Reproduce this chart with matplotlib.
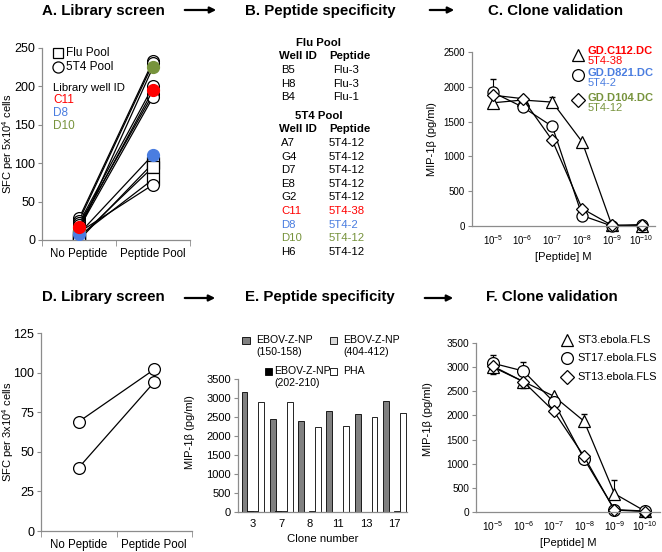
import matplotlib
matplotlib.use("Agg")
import matplotlib.pyplot as plt
import numpy as np
from matplotlib.lines import Line2D
from matplotlib.patches import FancyArrowPatch, Rectangle

plt.rcParams['font.family'] = ['Liberation Sans', 'DejaVu Sans']
plt.rcParams['mathtext.fontset'] = 'custom'
plt.rcParams['mathtext.rm'] = 'Liberation Sans'
plt.rcParams['mathtext.default'] = 'regular'

# ---- data ----
# A. library screen (SFC per 5x10^4 cells)
flu_wells = ['B5', 'H8', 'B4']
flu_no_pep = [0, 3, 5]
flu_pool = [100, 95, 79]
t4_wells = ['A7', 'G4', 'D7', 'E8', 'G2', 'C11', 'D8', 'D10', 'H6']
t4_no_pep = [28, 25, 22, 20, 15, 17, 8, 12, 10]
t4_pool = [233, 230, 200, 190, 186, 195, 111, 225, 72]
highlight = {'C11': '#ff0000', 'D8': '#4a7de0', 'D10': '#77933c'}

# B. peptide specificity table
flu_peps = ['Flu-3', 'Flu-3', 'Flu-1']
t4_peps = ['5T4-12', '5T4-12', '5T4-12', '5T4-12', '5T4-12', '5T4-38', '5T4-2', '5T4-12', '5T4-12']

# C. clone validation, MIP-1b (pg/ml)
conc_labels = ['10$^{-5}$', '10$^{-6}$', '10$^{-7}$', '10$^{-8}$', '10$^{-9}$', '10$^{-10}$']
c112 = [1770, 1810, 1780, 1210, 10, 0]
c112_err = [0, 0, 70, 0, 0, 0]
d821 = [1920, 1710, 1430, 150, 0, 10]
d821_err = [190, 0, 0, 0, 0, 0]
d104 = [1880, 1830, 1230, 250, 10, 20]
d104_err = [0, 0, 0, 0, 0, 0]

# D. library screen (SFC per 3x10^4 cells)
d_no_pep = [69, 40]
d_pool = [102, 94]

# E. peptide specificity
clones = ['3', '7', '8', '11', '13', '17']
np_150 = [3150, 2440, 2400, 2650, 2590, 2920]
np_202 = [15, 15, 10, 0, 0, 10]
np_404 = [15, 20, 15, 0, 0, 15]
pha = [2900, 2900, 2240, 2260, 2500, 2600]

# F. clone validation
st3 = [3000, 2700, 2400, 1880, 380, 20]
st3_lo = [150, 0, 0, 0, 0, 0]
st3_hi = [0, 0, 0, 150, 280, 0]
st17 = [3080, 2920, 2280, 1100, 50, 20]
st17_lo = [0, 0, 0, 0, 0, 0]
st17_hi = [170, 180, 0, 0, 0, 0]
st13 = [3020, 2700, 2090, 1150, 40, 10]
st13_lo = [0, 140, 0, 0, 0, 0]
st13_hi = [0, 0, 0, 0, 0, 0]

W, H = 662, 552
fig = plt.figure(figsize=(W / 100, H / 100), dpi=100)
AX = '#8c8c8c'


def add_ax(x0, y0, x1, y1):
    return fig.add_axes([x0 / W, 1 - y1 / H, (x1 - x0) / W, (y1 - y0) / H])


def ftext(x, y, s, **kw):
    kw.setdefault('va', 'center')
    fig.text(x / W, 1 - y / H, s, **kw)


def fmark(x, y, marker, ms, fc='white'):
    fig.add_artist(Line2D([x / W], [1 - y / H], marker=marker, ms=ms, mfc=fc,
                          mec='k', mew=0.9, transform=fig.transFigure))


def arrow(x0, x1, y):
    fig.add_artist(FancyArrowPatch((x0 / W, 1 - y / H), (x1 / W, 1 - y / H),
                                   transform=fig.transFigure, arrowstyle='-|>',
                                   mutation_scale=9, lw=1.6, color='k'))


def style(ax, ysize=7.5, xsize=7.5):
    for s in ['top', 'right']:
        ax.spines[s].set_visible(False)
    for s in ['left', 'bottom']:
        ax.spines[s].set_color(AX)
        ax.spines[s].set_linewidth(0.9)
    ax.tick_params(axis='y', direction='out', length=3, color=AX, labelsize=ysize, pad=2)
    ax.tick_params(axis='x', length=0, labelsize=xsize)


def pair_axis(ax):
    ax.set_xlim(-0.5, 1.5)
    ax.set_xticks([0, 1])
    ax.set_xticklabels(['No Peptide', 'Peptide Pool'])
    ax.set_xticks([-0.5, 0.5, 1.5], minor=True)
    ax.tick_params(axis='x', which='minor', direction='out', length=4, color=AX)
    ax.tick_params(axis='x', which='major', pad=6)


# titles and arrows
for x, y, s in [(103, 11, 'A. Library screen'), (320, 11, 'B. Peptide specificity'),
                (555, 11, 'C. Clone validation'), (103, 297, 'D. Library screen'),
                (320, 297, 'E. Peptide specificity'), (552, 297, 'F. Clone validation')]:
    ftext(x, y, s, ha='center', fontsize=10.8, fontweight='bold')
arrow(182, 219, 10)
arrow(427, 457, 10)
arrow(182, 218, 298)
arrow(422, 456, 298)

# ---- A ----
ax = add_ax(42, 48, 190, 240)
style(ax, 9, 8.3)
pair_axis(ax)
ax.set_ylim(0, 250)
ax.set_yticks(range(0, 251, 50))
for a, b in zip(flu_no_pep, flu_pool):
    ax.plot([0, 1], [a, b], color='k', lw=0.9, marker='s', ms=8, mfc='white', mec='k', mew=0.9)
for w, a, b in zip(t4_wells, t4_no_pep, t4_pool):
    if w not in highlight:
        ax.plot([0, 1], [a, b], color='k', lw=0.9, marker='o', ms=8.5, mfc='white', mec='k', mew=0.9)
for z, w in enumerate(['D10', 'D8', 'C11']):
    i = t4_wells.index(w)
    a, b = t4_no_pep[i], t4_pool[i]
    ax.plot([0, 1], [a, b], color='k', lw=0.9, zorder=3)
    ax.plot([0, 1], [a, b], ls='none', marker='o', ms=8.5, mfc=highlight[w],
            mec=highlight[w], zorder=4 + z)
ax.set_ylabel('SFC per 5x10$^4$ cells', fontsize=8)
ax.yaxis.set_label_coords(-0.175, 0.5)
fmark(58, 53, 's', 7.5)
ftext(66, 53, 'Flu Pool', fontsize=8.5)
fmark(58, 67, 'o', 8)
ftext(66, 67, '5T4 Pool', fontsize=8.5)
ftext(53, 88, 'Library well ID', fontsize=8.2)
for i, w in enumerate(['C11', 'D8', 'D10']):
    ftext(53, 100 + 13 * i, w, fontsize=8.5, color=highlight[w])

# ---- B ----
fs = 8.2
ftext(319, 43, 'Flu Pool', ha='center', fontsize=fs, fontweight='bold')
ftext(279, 56, 'Well ID', fontsize=fs, fontweight='bold')
ftext(329, 56, 'Peptide', fontsize=fs, fontweight='bold')
for i, (w, p) in enumerate(zip(flu_wells, flu_peps)):
    ftext(281, 70 + 13.5 * i, w, fontsize=fs)
    ftext(333, 70 + 13.5 * i, p, fontsize=fs)
ftext(319, 116, '5T4 Pool', ha='center', fontsize=fs, fontweight='bold')
ftext(279, 129, 'Well ID', fontsize=fs, fontweight='bold')
ftext(329, 129, 'Peptide', fontsize=fs, fontweight='bold')
for i, (w, p) in enumerate(zip(t4_wells, t4_peps)):
    col = highlight.get(w, 'k')
    ftext(281, 143 + 13.6 * i, w, fontsize=fs, color=col)
    ftext(329, 143 + 13.6 * i, p, fontsize=fs, color=col)


# ---- C ----
def dose_axes(ax, top, step, tsize):
    style(ax, tsize, tsize)
    ax.set_ylim(0, top)
    ax.set_yticks(range(0, top + 1, step))
    ax.set_xticks(np.arange(6))
    ax.set_xticklabels(conc_labels)
    ax.tick_params(axis='x', pad=5)
    ax.set_xlabel('[Peptide] M', fontsize=8)
    ax.set_ylabel('MIP-1β (pg/ml)', fontsize=8)


xs = np.arange(6)
ax = add_ax(472, 52, 655, 226)
ax.set_xlim(-0.7, 5.45)
dose_axes(ax, 2500, 500, 7)
ax.yaxis.set_label_coords(-0.19, 0.5)
for y, e, m, ms in [(c112, c112_err, '^', 8), (d821, d821_err, 'o', 8), (d104, d104_err, 'D', 6.5)]:
    ax.errorbar(xs, y, yerr=[np.zeros(6), e], fmt='none', ecolor='k', elinewidth=0.8, capsize=2.5)
    ax.plot(xs, y, color='k', lw=0.9, marker=m, ms=ms, mfc='white', mec='k', mew=0.9, clip_on=False)
red, blue, green = highlight['C11'], highlight['D8'], highlight['D10']
fmark(578, 55, '^', 8.5)
ftext(588, 51, 'GD.C112.DC', fontsize=8, fontweight='bold', color=red)
ftext(588, 61, '5T4-38', fontsize=8, color=red)
fmark(578, 75, 'o', 8.5)
ftext(588, 73, 'GD.D821.DC', fontsize=8, fontweight='bold', color=blue)
ftext(588, 83, '5T4-2', fontsize=8, color=blue)
fmark(578, 100, 'D', 7)
ftext(588, 98, 'GD.D104.DC', fontsize=8, fontweight='bold', color=green)
ftext(588, 108, '5T4-12', fontsize=8, color=green)

# ---- D ----
ax = add_ax(41, 333, 192, 531)
style(ax, 9, 8.3)
pair_axis(ax)
ax.set_ylim(0, 125)
ax.set_yticks(range(0, 126, 25))
for a, b in zip(d_no_pep, d_pool):
    ax.plot([0, 1], [a, b], color='k', lw=0.9, marker='o', ms=8.5, mfc='white', mec='k', mew=0.9)
ax.set_ylabel('SFC per 3x10$^4$ cells', fontsize=8)
ax.yaxis.set_label_coords(-0.165, 0.5)

# ---- E ----
ax = add_ax(238, 379, 407, 512)
style(ax, 8, 8)
ax.set_ylim(0, 3500)
ax.set_yticks(range(0, 3501, 500))
ax.set_xlim(-0.53, 5.45)
gx = np.arange(len(clones))
bw = 0.2
for k, (vals, fc) in enumerate([(np_150, '#808080'), (np_202, 'black'),
                                (np_404, '#d9d9d9'), (pha, 'white')]):
    ax.bar(gx + (k - 1.5) * bw, vals, width=bw * 1.05, color=fc, edgecolor='k', lw=0.6)
ax.set_xticks(gx)
ax.set_xticklabels(clones)
ax.tick_params(axis='x', pad=5)
ax.set_xlabel('Clone number', fontsize=8.2)
ax.set_ylabel('MIP-1β (pg/ml)', fontsize=8)
ax.yaxis.set_label_coords(-0.257, 0.6)
for x, y, fc in [(246, 340, '#808080'), (333, 340, '#d9d9d9'), (268, 371, 'black'), (333, 371, 'white')]:
    fig.add_artist(Rectangle(((x - 3.5) / W, 1 - (y + 3.5) / H), 7 / W, 7 / H, fc=fc, ec='k',
                             lw=0.6, transform=fig.transFigure))
ftext(256, 340, 'EBOV-Z-NP', fontsize=7.6)
ftext(256, 352, '(150-158)', fontsize=7.6)
ftext(343, 340, 'EBOV-Z-NP', fontsize=7.6)
ftext(343, 352, '(404-412)', fontsize=7.6)
ftext(274, 371, 'EBOV-Z-NP', fontsize=7.6)
ftext(274, 383, '(202-210)', fontsize=7.6)
ftext(343, 371, 'PHA', fontsize=7.6)

# ---- F ----
ax = add_ax(476, 343, 660, 512)
ax.set_xlim(-0.56, 5.5)
dose_axes(ax, 3500, 500, 7.3)
ax.yaxis.set_label_coords(-0.234, 0.55)
for y, lo, hi, m, ms in [(st3, st3_lo, st3_hi, '^', 8), (st17, st17_lo, st17_hi, 'o', 8.5),
                         (st13, st13_lo, st13_hi, 'D', 6.5)]:
    ax.errorbar(xs, y, yerr=[lo, hi], fmt='none', ecolor='k', elinewidth=0.8, capsize=2.5)
    ax.plot(xs, y, color='k', lw=0.9, marker=m, ms=ms, mfc='white', mec='k', mew=0.9, clip_on=False)
fmark(567, 340, '^', 8.5)
ftext(577, 340, 'ST3.ebola.FLS', fontsize=7.9)
fmark(567, 358, 'o', 8.5)
ftext(577, 358, 'ST17.ebola.FLS', fontsize=7.9)
fmark(567, 377, 'D', 7)
ftext(577, 377, 'ST13.ebola.FLS', fontsize=7.9)

fig.savefig('out.png', dpi=100)
